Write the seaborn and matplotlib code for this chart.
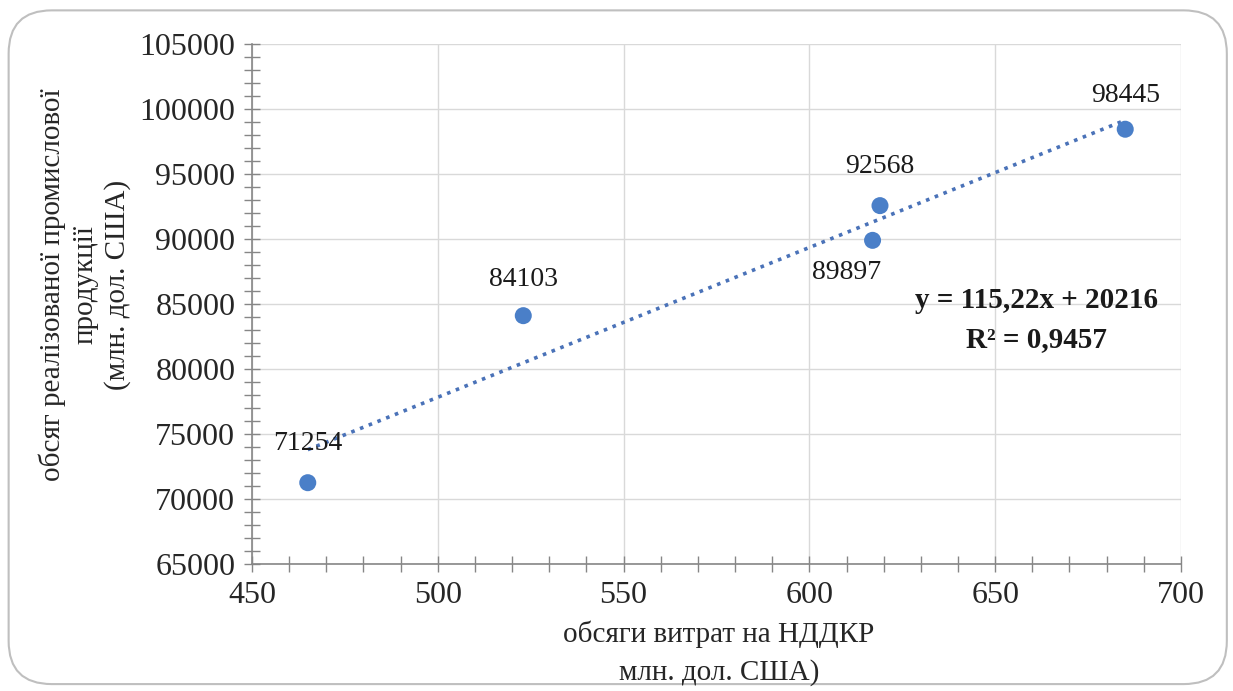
import numpy as np
import pandas as pd
import matplotlib.pyplot as plt
import seaborn as sns
from matplotlib.patches import FancyBboxPatch
from matplotlib.ticker import MultipleLocator

# R&D spending (x) vs. volume of industrial output sold (y)
rnd_spend = [465, 523, 617, 619, 685]
output_sold = [71254, 84103, 89897, 92568, 98445]
point_labels = ["71254", "84103", "89897", "92568", "98445"]
label_offsets = [(0, 3000), (0, 2800), (-7, -2500), (0, 3000), (0, 2600)]

trend_slope = 115.22
trend_intercept = 20216
r_squared = 0.9457

x_label = "обсяги витрат на НДДКР\nмлн. дол. США)"
y_label = "обсяг реалізованої промислової\nпродукції\n(млн. дол. США)"

df = pd.DataFrame({"x": rnd_spend, "y": output_sold})

sns.set_style("white")
plt.rcParams['font.family'] = ['Liberation Serif', 'DejaVu Serif']

fig = plt.figure(figsize=(12.33, 6.91), dpi=100)
ax = fig.add_axes([0.2044, 0.1838, 0.7534, 0.7525])

# rounded frame around the chart area
frame = FancyBboxPatch((0.007, 0.01), 0.988, 0.975, boxstyle="round,pad=0,rounding_size=0.035",
                       transform=fig.transFigure, facecolor='none', edgecolor='#bfbfbf',
                       linewidth=1.5, mutation_aspect=1233 / 691)
fig.patches.append(frame)

# trend line across the data range
trend_x = np.array([min(rnd_spend), max(rnd_spend)])
trend_df = pd.DataFrame({"x": trend_x, "y": trend_slope * trend_x + trend_intercept})
sns.lineplot(data=trend_df, x="x", y="y", ax=ax, color='#4a72b8', linestyle=(0, (1, 1.6)),
             linewidth=2.6, zorder=2)

sns.scatterplot(data=df, x="x", y="y", ax=ax, color='#4a7fc8', s=150, edgecolor='none', zorder=3)

for xv, yv, lab, (dx, dy) in zip(rnd_spend, output_sold, point_labels, label_offsets):
    ax.text(xv + dx, yv + dy, lab, ha='center', va='center', fontsize=20, color='#1a1a1a')

ax.text(661, 85300, f"y = {str(trend_slope).replace('.', ',')}x + {trend_intercept}",
        ha='center', va='center', fontsize=21, fontweight='bold', color='#1a1a1a')
ax.text(661, 82300, f"R² = {str(r_squared).replace('.', ',')}",
        ha='center', va='center', fontsize=21, fontweight='bold', color='#1a1a1a')

ax.set_xlim(450, 700)
ax.set_ylim(65000, 105000)
ax.xaxis.set_major_locator(MultipleLocator(50))
ax.xaxis.set_minor_locator(MultipleLocator(10))
ax.yaxis.set_major_locator(MultipleLocator(5000))
ax.yaxis.set_minor_locator(MultipleLocator(1000))
ax.grid(True, which='major', color='#d9d9d9', linewidth=1)
ax.set_axisbelow(True)

for side in ['top', 'right']:
    ax.spines[side].set_visible(False)
for side in ['left', 'bottom']:
    ax.spines[side].set_color('#868686')
    ax.spines[side].set_linewidth(1.2)

ax.tick_params(which='major', direction='inout', length=12, width=1, color='#868686',
               labelsize=23, pad=6)
ax.tick_params(which='minor', direction='inout', length=12, width=1, color='#868686')
ax.tick_params(axis='x', which='both', bottom=True)
ax.tick_params(axis='y', which='both', left=True)

ax.set_xlabel("")
ax.set_ylabel("")
fig.text(0.583, 0.055, x_label, ha='center', va='center', fontsize=21, linespacing=1.55)
fig.text(0.069, 0.588, y_label, ha='center', va='center', fontsize=21, rotation=90, linespacing=1.3)

fig.savefig("out.png", dpi=100)
